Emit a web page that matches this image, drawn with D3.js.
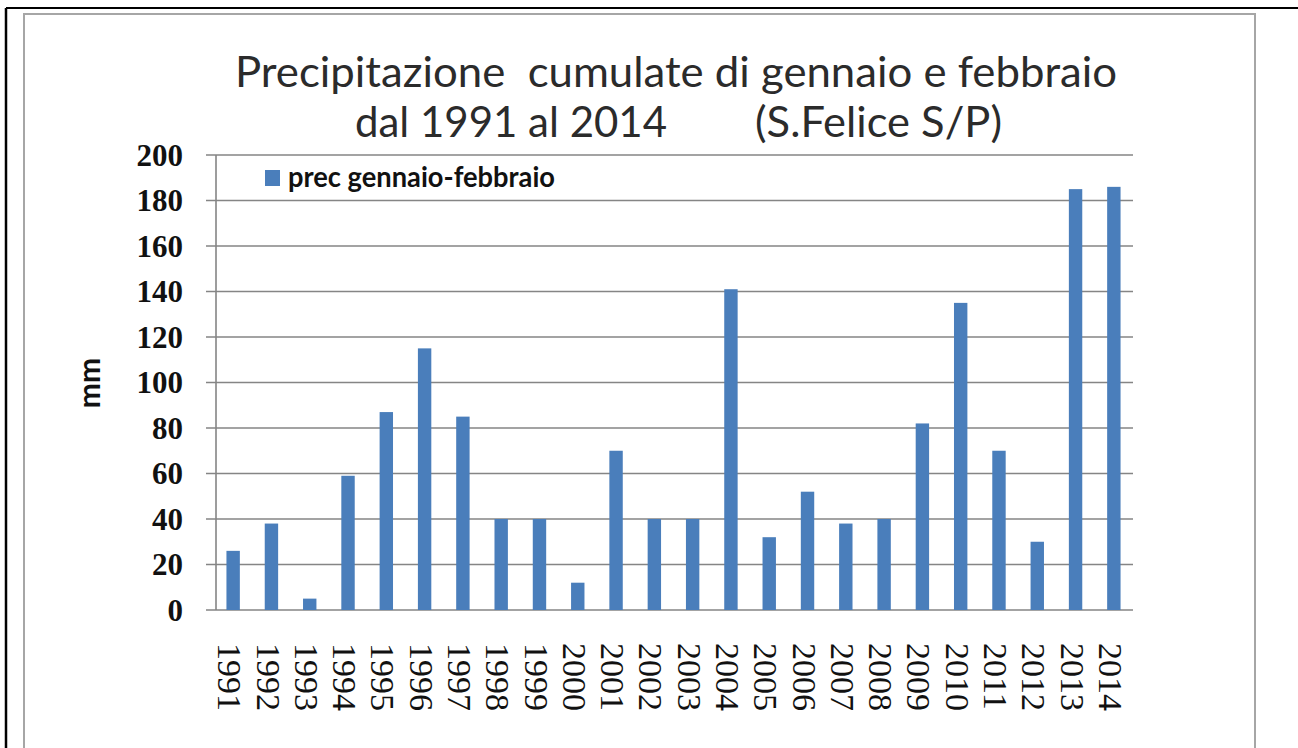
<!DOCTYPE html>
<html>
<head>
<meta charset="utf-8">
<script src="https://cdn.jsdelivr.net/npm/d3@7"></script>
<style>
    body { margin: 0; background: #ffffff; }
    #chart_container { width: 1298px; height: 748px; }
</style>
</head>
<body>
<div id="chart_container"></div>
<script>
// data
var years = ["1991", "1992", "1993", "1994", "1995", "1996", "1997", "1998", "1999", "2000",
             "2001", "2002", "2003", "2004", "2005", "2006", "2007", "2008", "2009", "2010",
             "2011", "2012", "2013", "2014"];
var precValues = [26, 38, 5, 59, 87, 115, 85, 40, 40, 12,
                  70, 40, 40, 141, 32, 52, 38, 40, 82, 135,
                  70, 30, 185, 186];
var yTicks = [0, 20, 40, 60, 80, 100, 120, 140, 160, 180, 200];
var titleLine1 = "Precipitazione  cumulate di gennaio e febbraio";
var titleLine2a = "dal 1991 al 2014";
var titleLine2b = "(S.Felice S/P)";
var legendLabel = "prec gennaio-febbraio";
var yLabel = "mm";

draw_chart();

function draw_chart() {
    var chart_width = 1298;
    var chart_height = 748;

    var plot = {left: 216, right: 1133, top: 155, bottom: 610};
    var barColor = "#4a7ebb";
    var gridColor = "#858585";
    var titleFont = "Lato, 'Open Sans', sans-serif";

    var svg = d3.select("#chart_container")
                .append("svg")
                .attr("width", chart_width)
                .attr("height", chart_height);

    // outer frames (black page border + grey chart area)
    svg.append("line")
        .attr("x1", 6).attr("y1", 8).attr("x2", chart_width).attr("y2", 8)
        .style("stroke", "#000").style("stroke-width", 2);
    svg.append("line")
        .attr("x1", 6).attr("y1", 8).attr("x2", 6).attr("y2", chart_height)
        .style("stroke", "#000").style("stroke-width", 2.5);
    svg.append("rect")
        .attr("x", 24).attr("y", 14)
        .attr("width", 1255 - 24).attr("height", chart_height)
        .attr("fill", "none")
        .style("stroke", "#a6a6a6").style("stroke-width", 2);

    // Add the title of the chart (two lines, second one split by a wide gap)
    svg.append("text")
        .attr("x", 235).attr("y", 87)
        .attr("textLength", 882)
        .attr("lengthAdjust", "spacingAndGlyphs")
        .style("white-space", "pre")
        .style("font-family", titleFont)
        .style("font-size", "42px")
        .style("fill", "#2b2b2b")
        .text(titleLine1);

    svg.append("text")
        .attr("x", 355).attr("y", 137)
        .attr("textLength", 312)
        .attr("lengthAdjust", "spacingAndGlyphs")
        .style("font-family", titleFont)
        .style("font-size", "42px")
        .style("fill", "#2b2b2b")
        .text(titleLine2a);

    svg.append("text")
        .attr("x", 755).attr("y", 137)
        .attr("textLength", 247)
        .attr("lengthAdjust", "spacingAndGlyphs")
        .style("font-family", titleFont)
        .style("font-size", "42px")
        .style("fill", "#2b2b2b")
        .text(titleLine2b);

    var x = d3.scaleBand()
              .domain(years)
              .range([plot.left - 2, plot.right])
              .paddingInner(0.65)
              .paddingOuter(0.325);
    var y = d3.scaleLinear()
              .domain([0, 200])
              .range([plot.bottom, plot.top]);

    // grid lines with small ticks left of the axis
    svg.append("g")
        .selectAll("line")
        .data(yTicks)
        .enter()
        .append("line")
        .attr("x1", plot.left - 10)
        .attr("x2", plot.right)
        .attr("y1", function(d) { return y(d); })
        .attr("y2", function(d) { return y(d); })
        .style("stroke", gridColor)
        .style("stroke-width", 1.6);

    // y axis line
    svg.append("line")
        .attr("x1", plot.left).attr("x2", plot.left)
        .attr("y1", y(200)).attr("y2", y(0))
        .style("stroke", gridColor)
        .style("stroke-width", 1.6);

    // bars
    svg.append("g")
        .selectAll("rect")
        .data(precValues)
        .enter()
        .append("rect")
        .attr("x", function(d, i) { return x(years[i]); })
        .attr("width", x.bandwidth())
        .attr("y", function(d) { return y(d); })
        .attr("height", function(d) { return y(0) - y(d); })
        .attr("fill", barColor);

    // y tick labels
    svg.append("g")
        .selectAll("text")
        .data(yTicks)
        .enter()
        .append("text")
        .attr("x", 183)
        .attr("y", function(d) { return y(d); })
        .attr("dy", "0.35em")
        .attr("text-anchor", "end")
        .style("font-family", "'Liberation Serif', serif")
        .style("font-weight", "bold")
        .style("font-size", "31px")
        .style("fill", "#111")
        .text(function(d) { return d; });

    // x tick labels, rotated to read top-down
    svg.append("g")
        .selectAll("text")
        .data(years)
        .enter()
        .append("text")
        .attr("transform", function(d) {
            return "translate(" + (x(d) + x.bandwidth() / 2 - 3) + "," + 643 + ") rotate(90)";
        })
        .attr("dy", "0.35em")
        .attr("text-anchor", "start")
        .style("font-family", "'Liberation Serif', serif")
        .style("font-size", "34px")
        .style("fill", "#111")
        .text(function(d) { return d; });

    // y axis label
    svg.append("text")
        .attr("transform", "translate(" + 100 + "," + 383 + ") rotate(-90)")
        .attr("text-anchor", "middle")
        .style("font-family", titleFont)
        .style("font-weight", "bold")
        .style("font-size", "30px")
        .style("fill", "#111")
        .text(yLabel);

    // Add legend
    var legend = svg.append("g")
        .attr("id", "legend")
        .attr("transform", "translate(" + 265 + "," + 170 + ")");

    legend.append("rect")
        .attr("x", 0).attr("y", 0)
        .attr("width", 15).attr("height", 16)
        .attr("fill", barColor);

    legend.append("text")
        .attr("x", 23).attr("y", 17)
        .attr("textLength", 267)
        .attr("lengthAdjust", "spacingAndGlyphs")
        .style("font-family", titleFont)
        .style("font-weight", "bold")
        .style("font-size", "28px")
        .style("fill", "#111")
        .text(legendLabel);
}
</script>
</body>
</html>
